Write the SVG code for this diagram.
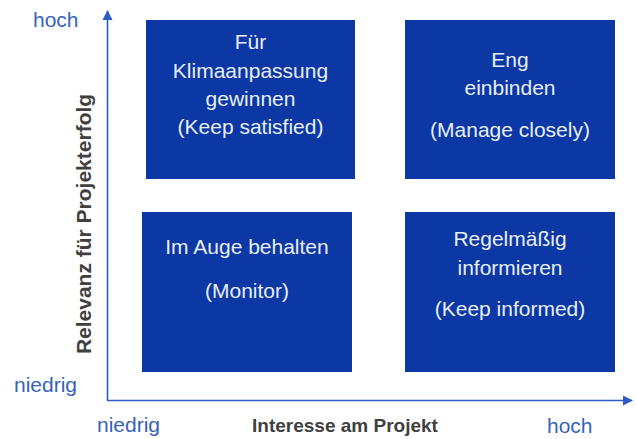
<svg xmlns="http://www.w3.org/2000/svg" width="636" height="439" viewBox="0 0 636 439">
  <style>
    .box { fill: #0B38A5; }
    .boxtxt { font-family: "Liberation Sans", Arial, sans-serif; font-size: 21px; fill: #E8EEF8; text-anchor: middle; }
    .axis { stroke: #2C5CC5; stroke-width: 1.6; fill: none; }
    .tick { font-family: "Liberation Sans", Arial, sans-serif; font-size: 21px; fill: #3563BA; }
    .title { font-family: "Liberation Sans", Arial, sans-serif; font-size: 19px; font-weight: bold; fill: #404040; text-anchor: middle; }
    .title-v { font-size: 21px; }
  </style>
  <defs>
    <marker id="arrow" viewBox="0 0 10 10" refX="9" refY="5" markerWidth="6.5" markerHeight="6.5" markerUnits="strokeWidth" orient="auto">
      <path d="M0,0 L10,5 L0,10 Z" fill="#2C5CC5"/>
    </marker>
  </defs>

  <rect width="636" height="439" fill="#FFFFFF"/>

  <!-- axes -->
  <g id="connectors">
    <line class="axis" x1="107.5" y1="400.5" x2="107.5" y2="11" marker-end="url(#arrow)"/>
    <line class="axis" x1="107" y1="400.5" x2="632" y2="400.5" marker-end="url(#arrow)"/>
  </g>

  <!-- axis labels -->
  <g id="axis-labels">
    <text class="tick" x="33" y="27">hoch</text>
    <text class="tick" x="14" y="392">niedrig</text>
    <text class="tick" x="97" y="432">niedrig</text>
    <text class="tick" x="547" y="433">hoch</text>
    <text class="title" x="345" y="432">Interesse am Projekt</text>
    <text class="title title-v" transform="translate(91 224) rotate(-90)" x="0" y="0">Relevanz für Projekterfolg</text>
  </g>

  <!-- quadrants -->
  <g id="keep-satisfied">
    <rect class="box" x="146" y="20" width="209" height="159"/>
    <text class="boxtxt" x="250.5" y="49">Für</text>
    <text class="boxtxt" x="250.5" y="78">Klimaanpassung</text>
    <text class="boxtxt" x="250.5" y="106">gewinnen</text>
    <text class="boxtxt" x="250.5" y="134">(Keep satisfied)</text>
  </g>

  <g id="manage-closely">
    <rect class="box" x="405" y="20" width="210" height="159"/>
    <text class="boxtxt" x="510" y="67">Eng</text>
    <text class="boxtxt" x="510" y="95">einbinden</text>
    <text class="boxtxt" x="510" y="137">(Manage closely)</text>
  </g>

  <g id="monitor">
    <rect class="box" x="142" y="212" width="210" height="160"/>
    <text class="boxtxt" x="247" y="254">Im Auge behalten</text>
    <text class="boxtxt" x="247" y="298">(Monitor)</text>
  </g>

  <g id="keep-informed">
    <rect class="box" x="405" y="212" width="210" height="160"/>
    <text class="boxtxt" x="510" y="246">Regelmäßig</text>
    <text class="boxtxt" x="510" y="275">informieren</text>
    <text class="boxtxt" x="510" y="316">(Keep informed)</text>
  </g>
</svg>
